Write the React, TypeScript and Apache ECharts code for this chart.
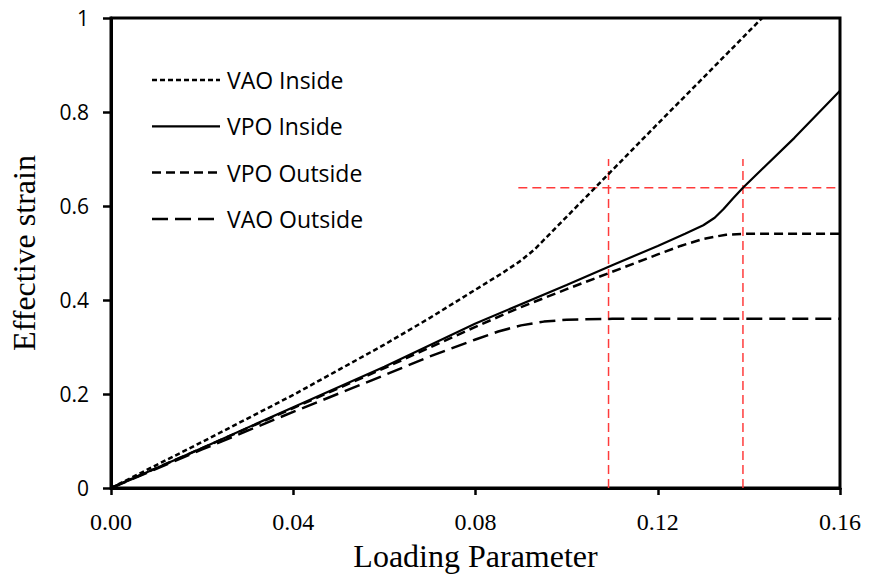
import React, { useEffect, useRef } from "react";
import * as echarts from "echarts";

const xTicks = [0, 0.04, 0.08, 0.12, 0.16];
const yTicks = [0, 0.2, 0.4, 0.6, 0.8, 1];

const vaoInside: [number, number][] = [
  [0, 0], [0.02, 0.098], [0.04, 0.198], [0.06, 0.305], [0.07, 0.362], [0.08, 0.422],
  [0.086, 0.458], [0.09, 0.484], [0.093, 0.508], [0.1, 0.577], [0.11, 0.676],
  [0.12, 0.775], [0.13, 0.873], [0.1429, 1.0],
];
const vpoInside: [number, number][] = [
  [0, 0], [0.02, 0.085], [0.04, 0.172], [0.06, 0.258], [0.08, 0.35], [0.1, 0.432],
  [0.11, 0.474], [0.12, 0.515], [0.126, 0.541], [0.13, 0.559], [0.1325, 0.575],
  [0.1345, 0.594], [0.1365, 0.616], [0.1387, 0.639], [0.15, 0.745], [0.16, 0.845],
];
const vpoOutside: [number, number][] = [
  [0, 0], [0.02, 0.085], [0.04, 0.17], [0.06, 0.255], [0.08, 0.343], [0.09, 0.385],
  [0.1, 0.423], [0.11, 0.46], [0.12, 0.497], [0.125, 0.515], [0.13, 0.53],
  [0.135, 0.539], [0.14, 0.541], [0.16, 0.541],
];
const vaoOutside: [number, number][] = [
  [0, 0], [0.02, 0.082], [0.04, 0.162], [0.06, 0.24], [0.07, 0.28], [0.08, 0.316],
  [0.085, 0.333], [0.09, 0.346], [0.095, 0.354], [0.1, 0.358], [0.11, 0.36], [0.16, 0.36],
];
const redV1: [number, number][] = [[0.1092, 0], [0.1092, 0.7]];
const redV2: [number, number][] = [[0.1387, 0], [0.1387, 0.7]];
const redH: [number, number][] = [[0.0894, 0.639], [0.16, 0.639]];

const seriesNames = ["VAO Inside", "VPO Inside", "VPO Outside", "VAO Outside"];
const seriesDash: (number[] | null)[] = [[5, 3], null, [9, 5], [16, 7]];

export default function App() {
  const ref = useRef<HTMLDivElement>(null);
  useEffect(() => {
    document.body.style.margin = "0";
    const chart = echarts.init(ref.current!, null, { renderer: "svg" });
    const serif = "'Liberation Serif', 'Times New Roman', serif";
    const sans = "'Open Sans', sans-serif";
    const red = (data: [number, number][]) => ({
      type: "line",
      data,
      symbol: "none",
      silent: true,
      lineStyle: { color: "#ff3b3b", width: 1.5, type: [9, 5] },
      z: 1,
    });
    const legendGraphics: any[] = [];
    seriesNames.forEach((name, i) => {
      const y = 80 + i * 46.3;
      legendGraphics.push({
        type: "line",
        shape: { x1: 152, y1: y, x2: 220, y2: y },
        style: {
          stroke: "#000",
          lineWidth: i === 1 ? 2.2 : 2.5,
          lineDash: seriesDash[i] || undefined,
        },
      });
      legendGraphics.push({
        type: "text",
        x: 227,
        y,
        style: { text: name, font: `23px ${sans}`, fill: "#000", verticalAlign: "middle" },
      });
    });
    const mk = (i: number, data: [number, number][]) => ({
      name: seriesNames[i],
      type: "line",
      data,
      symbol: "none",
      z: 3,
      lineStyle: { color: "#000", width: i === 1 ? 2.2 : 2.5, type: seriesDash[i] || "solid" },
      itemStyle: { color: "#000" },
    });
    chart.setOption({
      animation: false,
      backgroundColor: "#ffffff",
      grid: {
        left: 110, right: 30, top: 18, bottom: 87,
        show: true, borderColor: "#000", borderWidth: 3, backgroundColor: "transparent",
      },
      graphic: legendGraphics,
      xAxis: {
        type: "value",
        min: xTicks[0],
        max: xTicks[xTicks.length - 1],
        interval: 0.04,
        name: "Loading Parameter",
        nameLocation: "middle",
        nameGap: 52,
        nameTextStyle: { fontFamily: serif, fontSize: 32, color: "#000000" },
        axisLine: { lineStyle: { color: "#000", width: 3 } },
        axisTick: { show: true, length: 7, inside: false, lineStyle: { color: "#000", width: 2.5 } },
        axisLabel: {
          fontFamily: serif, fontSize: 24, color: "#000", margin: 22,
          formatter: (v: number) => v.toFixed(2),
        },
        splitLine: { show: false },
      },
      yAxis: {
        type: "value",
        min: yTicks[0],
        max: yTicks[yTicks.length - 1],
        interval: 0.2,
        name: "Effective strain",
        nameLocation: "middle",
        nameGap: 71,
        nameTextStyle: { fontFamily: serif, fontSize: 32, color: "#000000" },
        axisLine: { lineStyle: { color: "#000", width: 3 } },
        axisTick: { show: true, length: 8, lineStyle: { color: "#000", width: 2.5 } },
        axisLabel: {
          fontFamily: sans, fontSize: 21, color: "#000", margin: 22,
          formatter: (v: number) => (v === 0 || v === 1 ? String(v) : v.toFixed(1)),
        },
        splitLine: { show: false },
      },
      series: [
        mk(0, vaoInside),
        mk(1, vpoInside),
        mk(2, vpoOutside),
        mk(3, vaoOutside),
        red(redV1),
        red(redV2),
        red(redH),
      ],
    });
    return () => chart.dispose();
  }, []);
  return <div ref={ref} style={{ width: 870, height: 577 }} />;
}
